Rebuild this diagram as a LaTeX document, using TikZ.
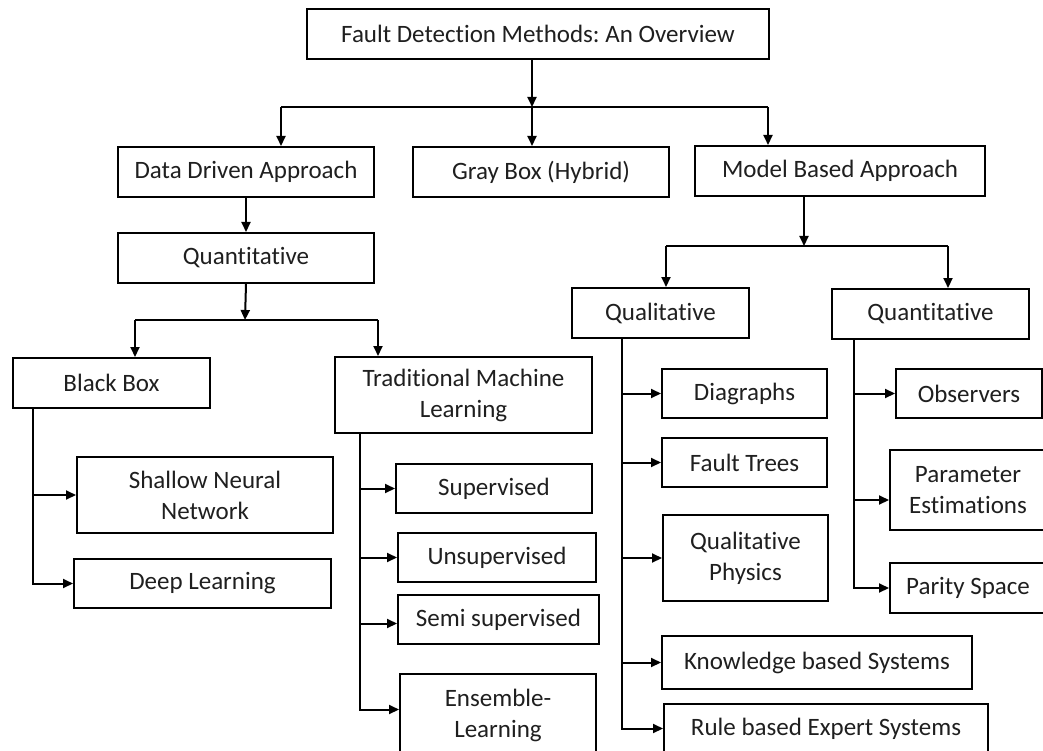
\documentclass[tikz,border=0pt]{standalone}
\usepackage{fontspec}
\setmainfont{Carlito}[Ligatures=CommonOff]
\usetikzlibrary{arrows.meta}
\frenchspacing
\tikzset{
  box/.style={draw, line width=2pt, inner sep=0pt, align=center,
    font=\fontsize{25}{31}\selectfont, anchor=north west, text=black!88},
  conn/.style={line width=2pt},
  arr/.style={conn, -{Triangle[length=10pt,width=9pt]}},
}
\newcommand\fdbox[6]{\node[box, minimum width={#4-#2}, minimum height={#5-#3}] (#1) at (#2,#3) {#6};}
\begin{document}
\begin{tikzpicture}[x=1pt,y=-1pt]
\useasboundingbox[fill=white] (0,0) rectangle (1043,751);
% boxes
\fdbox{top}{306}{8}{768}{58}{Fault Detection Methods: An Overview}
\fdbox{dda}{117}{146}{373}{196}{Data Driven Approach}
\fdbox{gray}{412}{146}{668}{196}{Gray Box (Hybrid)}
\fdbox{mba}{694}{145}{984}{195}{Model Based Approach}
\fdbox{quantL}{117}{232}{373}{282}{Quantitative}
\fdbox{bb}{12}{357}{209}{407}{Black Box}
\fdbox{tml}{334}{356}{591}{432}{Traditional Machine\\Learning}
\fdbox{snn}{76}{456}{332}{532}{Shallow Neural\\Network}
\fdbox{dl}{73}{558}{330}{607}{Deep Learning}
\fdbox{sup}{395}{463}{591}{512}{Supervised}
\fdbox{unsup}{397}{532}{595}{581}{Unsupervised}
\fdbox{semi}{397}{594}{598}{643}{Semi supervised}
\fdbox{ens}{399}{673}{595}{756}{Ensemble-\\Learning}
\fdbox{qual}{571}{287}{748}{337}{Qualitative}
\fdbox{quantR}{831}{288}{1028}{338}{Quantitative}
\fdbox{diag}{661}{368}{826}{417}{Diagraphs}
\fdbox{ft}{661}{437}{826}{486}{Fault Trees}
\fdbox{qp}{662}{514}{827}{600}{Qualitative\\Physics}
\fdbox{kbs}{661}{635}{971}{688}{Knowledge based Systems}
\fdbox{rbes}{663}{703}{987}{752}{Rule based Expert Systems}
\fdbox{obs}{895}{368}{1041}{417}{Observers}
\fdbox{pe}{889}{449}{1045}{529}{Parameter\\Estimations}
\fdbox{parity}{889}{562}{1045}{612}{Parity Space}
% junction coordinates
\coordinate (j1) at (532,107);
\coordinate (j1a) at (281,107);
\coordinate (j1b) at (768,107);
\coordinate (j2) at (245,320);
\coordinate (j2a) at (135,320);
\coordinate (j2b) at (378,320);
\coordinate (j3) at (804,246);
\coordinate (j3a) at (666,246);
\coordinate (j3b) at (948,246);
\coordinate (bbl) at (33,407);
\coordinate (tmll) at (360,432);
\coordinate (quall) at (622,337);
\coordinate (qrl) at (854,338);
% top level
\draw[arr] (top.south -| j1) -- (j1);
\draw[conn] (j1a) -- (j1b);
\draw[arr] (j1a) -- (j1a |- dda.north);
\draw[arr] (j1) -- (j1 |- gray.north);
\draw[arr] (j1b) -- (j1b |- mba.north);
% data driven
\draw[arr] (dda) -- (quantL);
\draw[arr] (quantL.south) -- (j2);
\draw[conn] (j2a) -- (j2b);
\draw[arr] (j2a) -- (j2a |- bb.north);
\draw[arr] (j2b) -- (j2b |- tml.north);
% model based
\draw[arr] (mba.south -| j3) -- (j3);
\draw[conn] (j3a) -- (j3b);
\draw[arr] (j3a) -- (j3a |- qual.north);
\draw[arr] (j3b) -- (j3b |- quantR.north);
% black box
\draw[arr] (bbl) |- (dl.west);
\draw[arr] (bbl |- snn.west) -- (snn.west);
% traditional ML
\draw[arr] (tmll) |- ([yshift=6pt]ens.west);
\draw[arr] (tmll |- sup.west) -- (sup.west);
\draw[arr] (tmll |- unsup.west) -- (unsup.west);
\draw[arr] ([yshift=-4pt]tmll |- semi.west) -- ([yshift=-4pt]semi.west);
% qualitative
\draw[arr] (quall) |- (rbes.west);
\draw[arr] (quall |- diag.west) -- (diag.west);
\draw[arr] (quall |- ft.west) -- (ft.west);
\draw[arr] (quall |- qp.west) -- (qp.west);
\draw[arr] (quall |- kbs.west) -- (kbs.west);
% quantitative right
\draw[arr] (qrl) |- (parity.west);
\draw[arr] (qrl |- obs.west) -- (obs.west);
\draw[arr] ([yshift=-10pt]qrl |- pe.west) -- ([yshift=-10pt]pe.west);
\end{tikzpicture}
\end{document}
